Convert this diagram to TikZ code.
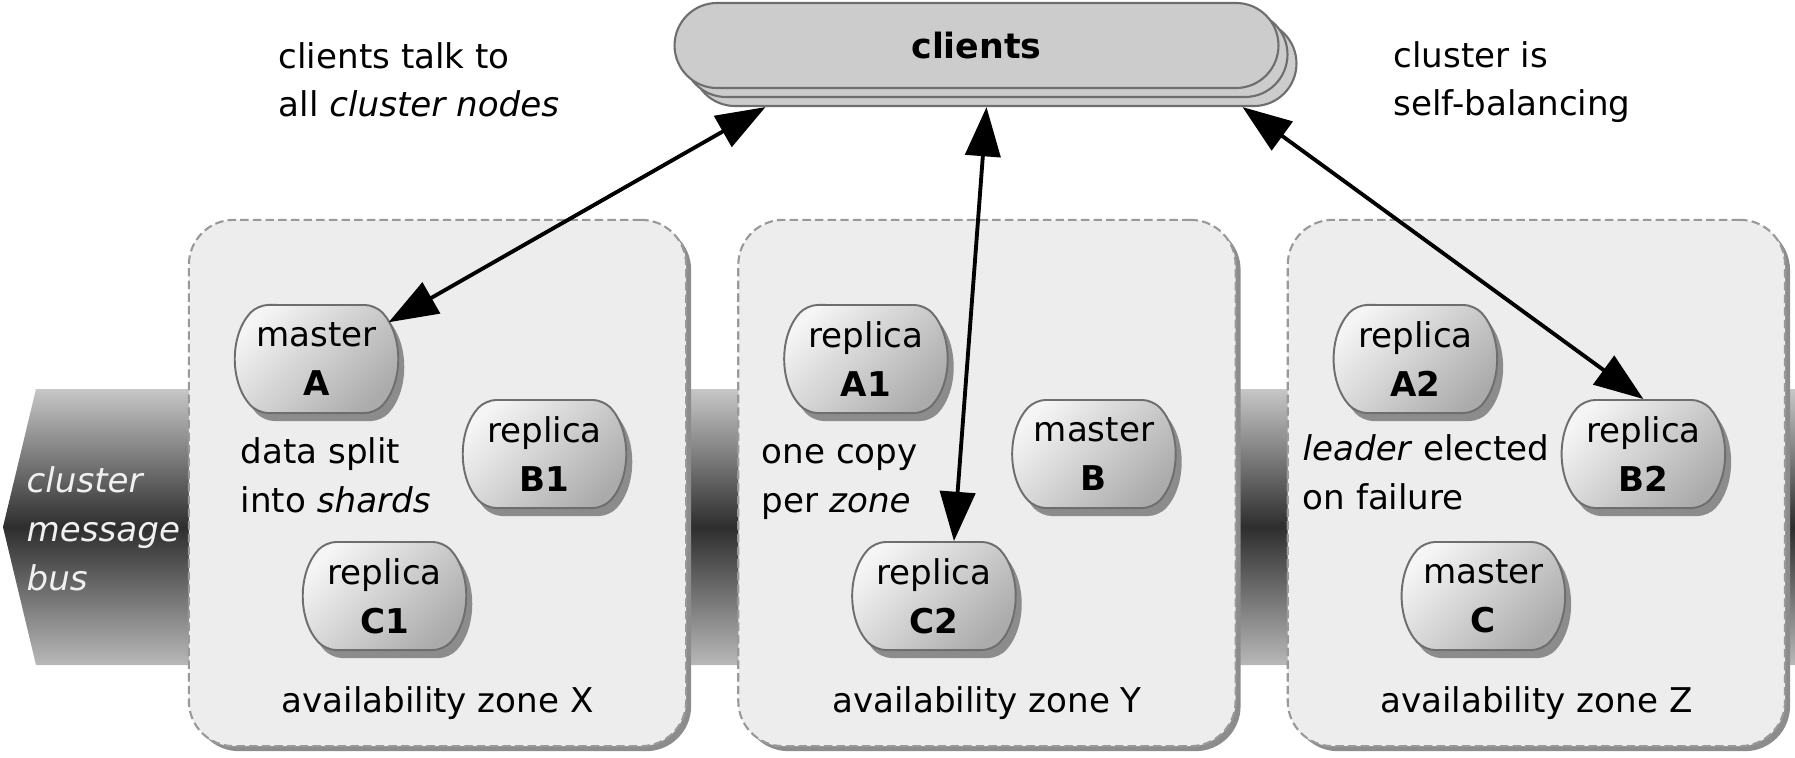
\documentclass[tikz,border=0pt]{standalone}
\usepackage{fontspec}
\setmainfont{DejaVu Sans}
\usetikzlibrary{shapes.misc,shadows,arrows.meta,calc,positioning}
\tikzset{
        zone/.style = {draw=black!40, fill=black!7, line width=0.6pt,
            dash pattern=on 2.4pt off 1.2pt, rounded corners=0.45cm,
            minimum width=4.97cm, minimum height=5.26cm,
            drop shadow={shadow xshift=0.05cm, shadow yshift=-0.05cm, fill=black!45, opacity=1}},
        shard/.style = {rounded rectangle, rounded rectangle arc length=85, rounded corners=3pt,
            draw=black!57, line width=0.55pt, top color=black!4, bottom color=black!33,
            shading angle=45, minimum width=1.58cm, minimum height=1.08cm,
            inner sep=0pt, align=center, font=\fontsize{9.7}{13.9}\selectfont,
            drop shadow={shadow xshift=0.06cm, shadow yshift=-0.08cm, fill=black!45, opacity=1}},
        clientbox/.style = {rounded rectangle, draw=black!57, line width=0.6pt,
            fill=black!20, minimum width=6.27cm, minimum height=0.85cm,
            font=\fontsize{9.9}{12}\selectfont\bfseries},
        note/.style = {inner sep=0pt, align=left, anchor=base west,
            font=\fontsize{9.7}{13.9}\selectfont},
        zonelabel/.style = {inner sep=0pt, anchor=base, font=\fontsize{9.7}{13.9}\selectfont},
        link/.style = {{Triangle[length=14pt,width=10pt]}-{Triangle[length=14pt,width=10pt]},
            line width=1.1pt},
    }
\begin{document}
\begin{tikzpicture}[x=0.01cm, y=0.01cm]
        \useasboundingbox (0,0) rectangle (1795,757);

        % message bus behind the zones
        \shade[top color=black!22, bottom color=black!28, middle color=black!82]
            (36,368) -- (3,230) -- (36,92) -- (1795,92) -- (1795,368) -- cycle;
        \node[note, text=black!6, font=\fontsize{9.7}{13.9}\selectfont\itshape] (busNote)
            at (26,167) {cluster\\message\\bus};

        % availability zones
        \node[zone] (zoneX) at (437.5,274) {};
        \node[zone, right=0.5cm of zoneX] (zoneY) {};
        \node[zone, right=0.5cm of zoneY] (zoneZ) {};

        \node[zonelabel] (labelX) at ($(zoneX.south)+(0,35)$) {availability zone X};
        \node[zonelabel] (labelY) at ($(zoneY.south)+(0,35)$) {availability zone Y};
        \node[zonelabel] (labelZ) at ($(zoneZ.south)+(0,35)$) {availability zone Z};

        % shards
        \node[shard] (masterA) at ($(zoneX)+(-121,124)$) {master\\\textbf{A}};
        \node[shard] (replicaB1) at ($(zoneX)+(107,29)$) {replica\\\textbf{B1}};
        \node[shard] (replicaC1) at ($(zoneX)+(-53,-113)$) {replica\\\textbf{C1}};

        \node[shard] (replicaA1) at ($(zoneY)+(-121,124)$) {replica\\\textbf{A1}};
        \node[shard] (masterB) at ($(zoneY)+(107,29)$) {master\\\textbf{B}};
        \node[shard] (replicaC2) at ($(zoneY)+(-53,-113)$) {replica\\\textbf{C2}};

        \node[shard] (replicaA2) at ($(zoneZ)+(-121,124)$) {replica\\\textbf{A2}};
        \node[shard] (replicaB2) at ($(zoneZ)+(107,29)$) {replica\\\textbf{B2}};
        \node[shard] (masterC) at ($(zoneZ)+(-53,-113)$) {master\\\textbf{C}};

        \node[note] (shardNote) at (240,245) {data split\\into \textit{shards}};
        \node[note] (copyNote) at (761,245) {one copy\\per \textit{zone}};
        \node[note] (leaderNote) at (1302,248) {\textit{leader} elected\\on failure};

        % clients, stacked
        \node[clientbox] (clients3) at (994.5,693.5) {};
        \node[clientbox] (clients2) at (985.5,702.5) {};
        \node[clientbox] (clients) at (976.5,711.5) {clients};

        \node[note] (talkNote) at (278,640) {clients talk to\\all \textit{cluster nodes}};
        \node[note] (balanceNote) at (1393,641) {cluster is\\self-balancing};

        \draw[link] ($(clients3.south)+(-229,0)$) -- (masterA.27);
        \draw[link] ($(clients3.south)+(-8,0)$) -- (replicaC2.70);
        \draw[link] ($(clients3.south)+(248,0)$) -- (replicaB2.north);
\end{tikzpicture}
\end{document}
